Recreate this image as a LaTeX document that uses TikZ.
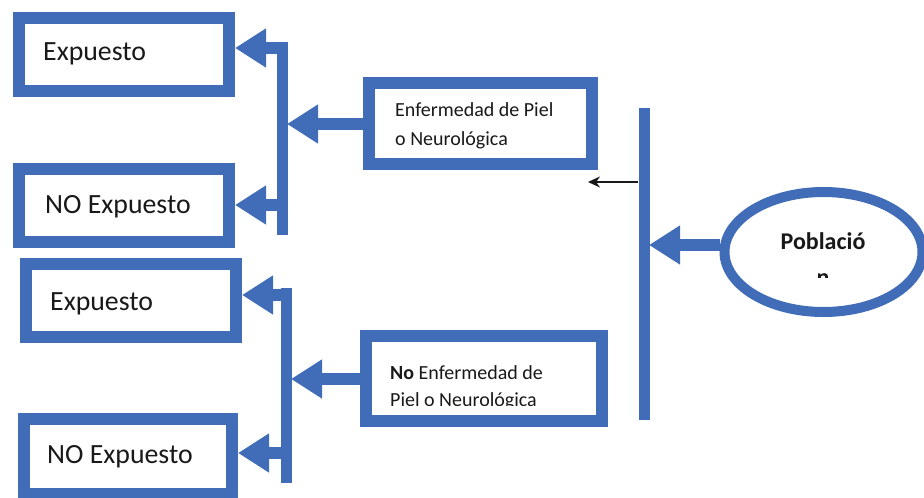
\documentclass[tikz,border=0pt]{standalone}
\usepackage{fontspec}
\setmainfont{Carlito}
\usetikzlibrary{arrows.meta,shapes.geometric}
\definecolor{boxblue}{RGB}{64,108,184}
\definecolor{ink}{RGB}{25,25,25}
\tikzset{
  box/.style={draw=boxblue, line width=12pt, fill=white, rectangle, inner sep=0pt, outer sep=6pt},
  bigtxt/.style={font=\fontsize{27.8}{32}\selectfont, text=ink, anchor=base west, inner sep=0pt},
  medtxt/.style={font=\fontsize{20}{24}\selectfont, text=ink, anchor=base west, inner sep=0pt},
  poptxt/.style={font=\bfseries\fontsize{24}{28}\selectfont, text=ink, anchor=base, inner sep=0pt},
  bar/.style={draw=boxblue, line width=11pt},
  bigarrow/.style={draw=boxblue, line width=12pt, -{Triangle[length=31pt,width=37pt]}},
  thinarrow/.style={draw=ink, line width=1.3pt, -{Stealth[length=12pt,width=11pt]}}
}
\begin{document}
\begin{tikzpicture}[x=1pt,y=-1pt]
\useasboundingbox (0,0) rectangle (924,498);
% boxes
\node[box, minimum width=210pt, minimum height=73pt] (e1) at (124,54.5) {};
\node[box, minimum width=210pt, minimum height=73pt] (n1) at (124,205.5) {};
\node[box, minimum width=210pt, minimum height=73pt] (e2) at (131,300.5) {};
\node[box, minimum width=208pt, minimum height=75pt] (n2) at (128,456.5) {};
\node[box, minimum width=223pt, minimum height=81pt] (enf1) at (480.5,123.5) {};
\node[box, minimum width=236pt, minimum height=85pt] (enf2) at (484,378.5) {};
\node[draw=boxblue, line width=10pt, fill=white, ellipse, inner sep=0pt, outer sep=5pt,
      minimum width=198pt, minimum height=120pt] (pop) at (823.5,252) {};
% texts
\node[bigtxt] (e1t) at (43,60) {Expuesto};
\node[bigtxt] (n1t) at (45,213) {NO Expuesto};
\node[bigtxt] (e2t) at (50,310) {Expuesto};
\node[bigtxt] (n2t) at (47,463) {NO Expuesto};
\node[medtxt] (enf1a) at (395,116) {Enfermedad de Piel};
\node[medtxt] (enf1b) at (395,145) {o Neurológica};
\begin{scope}
  \clip (372,342) rectangle (597,405);
  \node[medtxt] (enf2a) at (390,379) {\textbf{No} Enfermedad de};
  \node[medtxt] (enf2b) at (390,406) {Piel o Neurológica};
\end{scope}
\begin{scope}
  \clip (730,195) rectangle (915,277);
  \node[poptxt] (p1) at (823,249) {Població};
  \node[poptxt] (p2) at (823,285) {n};
\end{scope}
% bars
\coordinate (v1t) at (282,42);
\coordinate (v1b) at (282,235);
\coordinate (v2t) at (286,288);
\coordinate (v2b) at (286,483);
\coordinate (vrt) at (644,108);
\coordinate (vrb) at (644,420);
\draw[bar] (v1t) -- (v1b);
\draw[bar] (v2t) -- (v2b);
\draw[bar] (vrt) -- (vrb);
% connectors
\coordinate (a1) at (288,48);
\draw[bigarrow] (a1) -- (a1 -| e1.east);
\coordinate (a2) at (287,205);
\draw[bigarrow] (a2) -- (a2 -| n1.east);
\coordinate (a3) at (292,295);
\draw[bigarrow] (a3) -- (a3 -| e2.east);
\coordinate (a4) at (291,453);
\draw[bigarrow] (a4) -- (a4 -| n2.east);
\coordinate (m1) at (287,124);
\draw[bigarrow] (enf1.west |- m1) -- (m1);
\coordinate (m2) at (291,379);
\draw[bigarrow] (enf2.west |- m2) -- (m2);
\coordinate (m3) at (649,245);
\draw[bigarrow] (pop.west |- m3) -- (m3);
\coordinate (k1) at (638,182);
\coordinate (k2) at (588,182);
\draw[thinarrow] (k1) -- (k2);
\end{tikzpicture}
\end{document}
